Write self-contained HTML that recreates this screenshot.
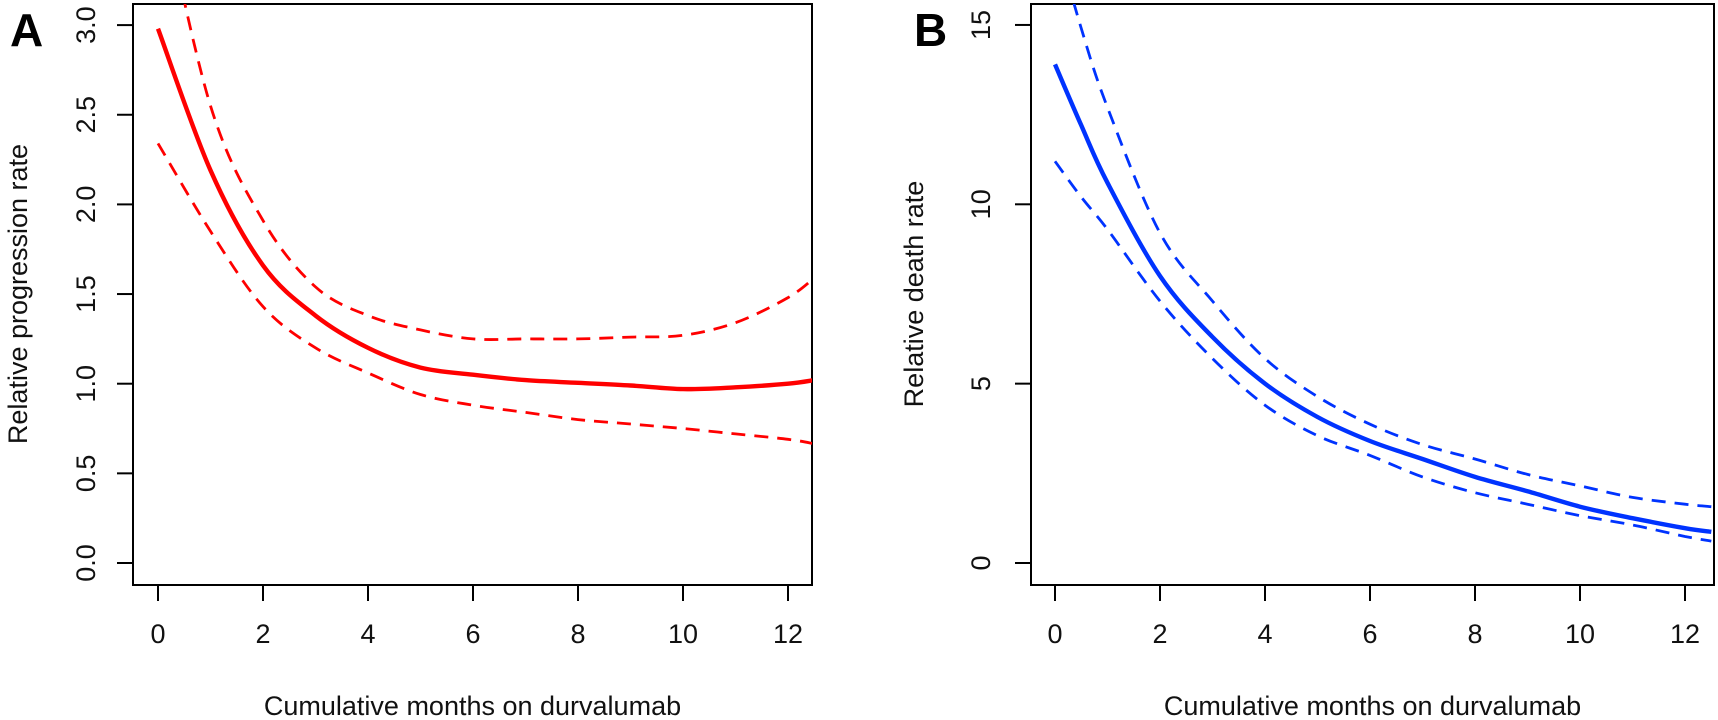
<!DOCTYPE html>
<html><head><meta charset="utf-8"><style>
html,body{margin:0;padding:0;background:#fff;}
svg{display:block;font-family:"Liberation Sans",Arial,sans-serif;}
</style></head><body>
<svg id="chart" width="1718" height="720" viewBox="0 0 1718 720" xmlns="http://www.w3.org/2000/svg">
<defs>
<clipPath id="clipA"><rect x="133" y="4" width="679" height="581"/></clipPath>
<clipPath id="clipB"><rect x="1031" y="4" width="683" height="581"/></clipPath>
</defs>
<text x="10" y="46" font-size="46" font-weight="bold">A</text>
<text x="914" y="46" font-size="46" font-weight="bold">B</text>
<g id="panelA"></g>
<g id="panelB"></g>
</svg>
<script>
const monthsA = [0,1,2,3,4,5,6,7,8,9,10,11,12,12.5];
const progFit = [2.98,2.19,1.66,1.38,1.20,1.09,1.05,1.02,1.005,0.99,0.97,0.98,1.00,1.02];
const progUpper = [3.8,2.55,1.91,1.54,1.38,1.30,1.25,1.25,1.25,1.26,1.27,1.34,1.48,1.59];
const progLower = [2.34,1.85,1.43,1.20,1.06,0.94,0.88,0.84,0.80,0.775,0.75,0.72,0.69,0.665];
const yTicksA = [0,0.5,1,1.5,2,2.5,3];
const yTickLabelsA = ["0.0","0.5","1.0","1.5","2.0","2.5","3.0"];

const monthsB = [0,0.5,1,2,3,4,5,6,7,8,9,10,11,12,12.5];
const deathFit = [13.9,12.2,10.6,8.0,6.3,5.0,4.07,3.4,2.9,2.4,2.0,1.57,1.25,0.97,0.87];
const deathUpper = [17.5,14.9,12.7,9.2,7.3,5.7,4.64,3.87,3.3,2.9,2.47,2.15,1.83,1.64,1.57];
const deathLower = [11.2,10.2,9.3,7.3,5.7,4.4,3.55,3.0,2.4,1.96,1.64,1.32,1.06,0.74,0.61];
const yTicksB = [0,5,10,15];
const yTickLabelsB = ["0","5","10","15"];

const xTicks = [0,2,4,6,8,10,12];
const xTickLabels = ["0","2","4","6","8","10","12"];

const NS = "http://www.w3.org/2000/svg";
function mk(tag, attrs, parent){
  const e = document.createElementNS(NS, tag);
  for (const k in attrs) e.setAttribute(k, attrs[k]);
  parent.appendChild(e);
  return e;
}
function smoothPath(pts){
  let d = 'M'+pts[0][0].toFixed(1)+' '+pts[0][1].toFixed(1);
  for (let i=0;i<pts.length-1;i++){
    const p0=pts[Math.max(0,i-1)], p1=pts[i], p2=pts[i+1], p3=pts[Math.min(pts.length-1,i+2)];
    const c1x=p1[0]+(p2[0]-p0[0])/6, c1y=p1[1]+(p2[1]-p0[1])/6;
    const c2x=p2[0]-(p3[0]-p1[0])/6, c2y=p2[1]-(p3[1]-p1[1])/6;
    d += ` C${c1x.toFixed(1)} ${c1y.toFixed(1)} ${c2x.toFixed(1)} ${c2y.toFixed(1)} ${p2[0].toFixed(1)} ${p2[1].toFixed(1)}`;
  }
  return d;
}

function panel(g, cfg){
  const xs = v => cfg.x0 + 52.5*v;
  const ys = v => 563 - v*cfg.ppu;
  const box = mk('rect',{x:cfg.left,y:4,width:cfg.right-cfg.left,height:581,fill:'none',stroke:'#000','stroke-width':2},g);
  
  
  xTicks.forEach((t,i)=>{
    const ln = mk('line',{x1:xs(t),x2:xs(t),y1:585,y2:601,stroke:'#000','stroke-width':2},g);
    
    
    const tx = mk('text',{x:xs(t),y:643,'font-size':27,'text-anchor':'middle',fill:'#111'},g);
    tx.textContent = xTickLabels[i];
    
    
  });
  cfg.yTicks.forEach((t,i)=>{
    const ln = mk('line',{x1:cfg.left-16,x2:cfg.left,y1:ys(t),y2:ys(t),stroke:'#000','stroke-width':2},g);
    
    
    const tx = mk('text',{x:0,y:0,'font-size':27,'text-anchor':'middle',fill:'#111',transform:`translate(${cfg.ylabX},${ys(t)}) rotate(-90)`},g);
    tx.textContent = cfg.yLabels[i];
    
    
  });
  const xt = mk('text',{x:(cfg.left+cfg.right)/2,y:715,'font-size':27,'text-anchor':'middle',fill:'#111'},g);
  xt.textContent = 'Cumulative months on durvalumab';
  
  
  const yt = mk('text',{x:0,y:0,'font-size':27,'text-anchor':'middle',fill:'#111',transform:`translate(${cfg.ytitleX},294) rotate(-90)`},g);
  yt.textContent = cfg.ytitle;
  
  
  const cg = mk('g',{'clip-path':`url(#${cfg.clip})`},g);
  function line(xv, yv, dashed, name){
    const pts = xv.map((x,i)=>[xs(x), ys(yv[i])]);
    const p = mk('path',{d:smoothPath(pts),fill:'none',stroke:cfg.color,'stroke-width':dashed?2.8:4.4,'stroke-linejoin':'round','stroke-dasharray':dashed?'14 9':'none'},cg);
    
    
  }
  line(cfg.xv, cfg.fit, false, 'fit-line');
  line(cfg.xv, cfg.up, true, 'upper-ci-line');
  line(cfg.xv, cfg.lo, true, 'lower-ci-line');
}

panel(document.getElementById('panelA'),{left:133,right:812,x0:158,ppu:179.3,yTicks:yTicksA,yLabels:yTickLabelsA,
  ylabX:95,ytitleX:27,ytitle:'Relative progression rate',clip:'clipA',color:'#ff0000',
  xv:monthsA,fit:progFit,up:progUpper,lo:progLower});
panel(document.getElementById('panelB'),{left:1031,right:1714,x0:1055,ppu:35.87,yTicks:yTicksB,yLabels:yTickLabelsB,
  ylabX:990,ytitleX:923,ytitle:'Relative death rate',clip:'clipB',color:'#0033ff',
  xv:monthsB,fit:deathFit,up:deathUpper,lo:deathLower});
</script>
</body></html>
